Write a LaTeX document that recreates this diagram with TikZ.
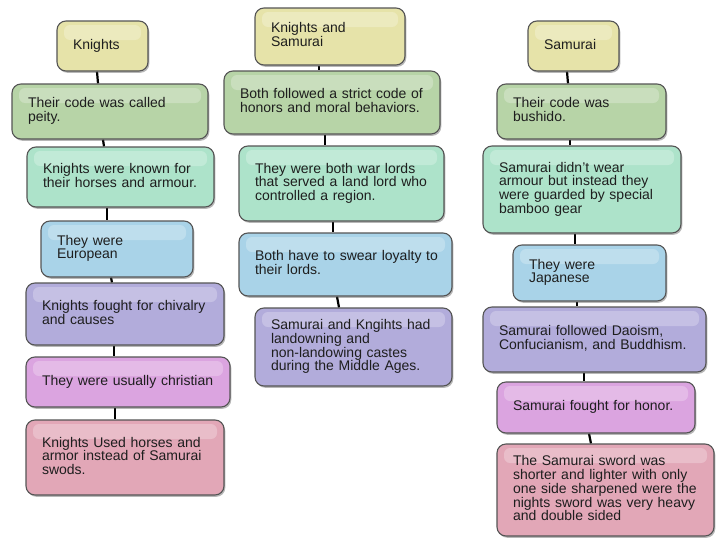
\documentclass[tikz,border=0pt]{standalone}
\usepackage{fontspec}
\setmainfont{Liberation Sans}
\usetikzlibrary{shadows,backgrounds}
\definecolor{cYel}{HTML}{E6E3A9}
\definecolor{cGrn}{HTML}{B7D4A7}
\definecolor{cMint}{HTML}{ADE3CA}
\definecolor{cBlue}{HTML}{A9D3E8}
\definecolor{cLav}{HTML}{B2ACDB}
\definecolor{cPink}{HTML}{DBA4E0}
\definecolor{cRose}{HTML}{E2A7B7}
\definecolor{boxline}{HTML}{555555}
\definecolor{txt}{HTML}{1E1E1E}
\newcommand{\tlines}[1]{\begin{tabular}{@{}l@{}}#1\end{tabular}}
\tikzset{
  bx/.style={draw=boxline, line width=1.1pt, rounded corners=9pt,
    inner xsep=16pt, inner ysep=2pt, align=left, text=txt,
    font=\fontsize{14}{12}\selectfont,
    drop shadow={shadow xshift=1.3pt, shadow yshift=-1.8pt, opacity=0.4, fill=black!70},
    path picture={\fill[white, opacity=0.25, rounded corners=6pt]
      ([xshift=7pt,yshift=-4pt]path picture bounding box.north west) rectangle
      ([xshift=-7pt,yshift=-19pt]path picture bounding box.north east);}},
  conn/.style={draw=black, line width=2.2pt}
}
\begin{document}
\begin{tikzpicture}[x=1pt,y=-1pt]
\useasboundingbox (0,0) rectangle (728,546);
\begin{scope}[on background layer]
\fill[white] (0,0) rectangle (728,546);
\end{scope}
% left column
\node[bx, fill=cYel,  text width=59pt,  minimum height=50pt] (K1) at (102.5,46) {\tlines{Knights}};
\node[bx, fill=cGrn,  text width=164pt, minimum height=55pt] (K2) at (110,111.5) {\tlines{Their code was called\\peity.}};
\node[bx, fill=cMint, text width=155pt, minimum height=60pt] (K3) at (120.5,177) {\tlines{Knights were known for\\their horses and armour.}};
\node[bx, fill=cBlue, text width=120pt, minimum height=56pt] (K4) at (117,249) {\tlines{They were\\European}};
\node[bx, fill=cLav,  text width=166pt, minimum height=62pt] (K5) at (125,314) {\tlines{Knights fought for chivalry\\and causes}};
\node[bx, fill=cPink, text width=172pt, minimum height=50pt] (K6) at (128,382) {\tlines{They were usually christian}};
\node[bx, fill=cRose, text width=166pt, minimum height=75pt] (K7) at (125,457.5) {\tlines{Knights Used horses and\\armor instead of Samurai\\swods.}};
% centre column
\node[bx, fill=cYel,  text width=118pt, minimum height=57pt] (C1) at (330,36.5) {\tlines{Knights and\\Samurai}};
\node[bx, fill=cGrn,  text width=184pt, minimum height=63pt] (C2) at (332,102.5) {\tlines{Both followed a strict code of\\honors and moral behaviors.}};
\node[bx, fill=cMint, text width=173pt, minimum height=75pt] (C3) at (341.5,183.5) {\tlines{They were both war lords\\that served a land lord who\\controlled a region.}};
\node[bx, fill=cBlue, text width=181pt, minimum height=63pt] (C4) at (345.5,264.5) {\tlines{Both have to swear loyalty to\\their lords.}};
\node[bx, fill=cLav,  text width=165pt, minimum height=78pt] (C5) at (353.5,347) {\tlines{Samurai and Kngihts had\\landowning and\\non-landowing castes\\during the Middle Ages.}};
% right column
\node[bx, fill=cYel,  text width=59pt,  minimum height=50pt] (S1) at (573.5,46) {\tlines{Samurai}};
\node[bx, fill=cGrn,  text width=137pt, minimum height=55pt] (S2) at (581.5,111.5) {\tlines{Their code was\\bushido.}};
\node[bx, fill=cMint, text width=166pt, minimum height=87pt] (S3) at (582,189.5) {\tlines{Samurai didn't wear\\armour but instead they\\were guarded by special\\bamboo gear}};
\node[bx, fill=cBlue, text width=121pt, minimum height=56pt] (S4) at (589.5,273) {\tlines{They were\\Japanese}};
\node[bx, fill=cLav,  text width=191pt, minimum height=65pt] (S5) at (594.5,339.5) {\tlines{Samurai followed Daoism,\\Confucianism, and Buddhism.}};
\node[bx, fill=cPink, text width=166pt, minimum height=51pt] (S6) at (596,407.5) {\tlines{Samurai fought for honor.}};
\node[bx, fill=cRose, text width=185pt, minimum height=92pt] (S7) at (605.5,490) {\tlines{The Samurai sword was\\shorter and lighter with only\\one side sharpened were the\\nights sword was very heavy\\and double sided}};
% connectors
\begin{scope}[on background layer]
\draw[conn] ([xshift=-5.5pt]K1.south) -- ([xshift=-12pt]K2.north);
\draw[conn] ([xshift=-7pt]K2.south) -- ([xshift=-16.5pt]K3.north);
\draw[conn] ([xshift=-13.5pt]K3.south) -- ([xshift=-10pt]K4.north);
\draw[conn] ([xshift=-6pt]K4.south) -- ([xshift=-13pt]K5.north);
\draw[conn] ([xshift=-11pt]K5.south) -- ([xshift=-14pt]K6.north);
\draw[conn] ([xshift=-13pt]K6.south) -- ([xshift=-10pt]K7.north);
\draw[conn] ([xshift=-11pt]C1.south) -- ([xshift=-13pt]C2.north);
\draw[conn] ([xshift=-7pt]C2.south) -- ([xshift=-16.5pt]C3.north);
\draw[conn] ([xshift=-8.5pt]C3.south) -- ([xshift=-12.5pt]C4.north);
\draw[conn] ([xshift=-8.5pt]C4.south) -- ([xshift=-14.5pt]C5.north);
\draw[conn] ([xshift=-6.5pt]S1.south) -- ([xshift=-13.5pt]S2.north);
\draw[conn] ([xshift=-11.5pt]S2.south) -- ([xshift=-12pt]S3.north);
\draw[conn] ([xshift=-7pt]S3.south) -- ([xshift=-14.5pt]S4.north);
\draw[conn] ([xshift=-12.5pt]S4.south) -- ([xshift=-17.5pt]S5.north);
\draw[conn] ([xshift=-10.5pt]S5.south) -- ([xshift=-12pt]S6.north);
\draw[conn] ([xshift=-7pt]S6.south) -- ([xshift=-14.5pt]S7.north);
\end{scope}
\end{tikzpicture}
\end{document}
